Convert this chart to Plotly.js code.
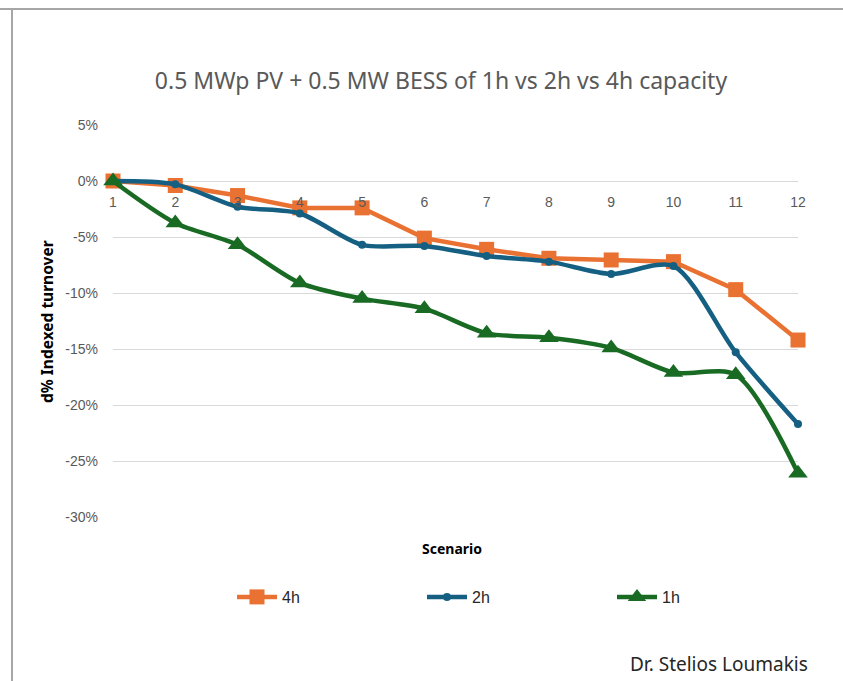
<!DOCTYPE html>
<html>
<head>
<meta charset="utf-8">
<script src="https://cdn.plot.ly/plotly-3.0.1.min.js"></script>
<style>
  html, body { margin: 0; padding: 0; background: #fff; }
  #wrap { position: relative; width: 843px; height: 681px; overflow: hidden; }
  #chart { position: absolute; left: 0; top: 0; width: 843px; height: 681px; }
  #frame { position: absolute; left: 11px; top: 8px; width: 840px; height: 680px;
           border-left: 2px solid #A6A6A6; border-top: 2px solid #A6A6A6; pointer-events: none; }
  #frameTop { position: absolute; left: 0; top: 8px; width: 843px; height: 0;
           border-top: 2px solid #A6A6A6; pointer-events: none; }
</style>
</head>
<body>
<div id="wrap">
  <div id="chart"></div>
  <div id="frameTop"></div>
  <div id="frame"></div>
</div>
<script>
// Data (percent)
const scenarios = [1, 2, 3, 4, 5, 6, 7, 8, 9, 10, 11, 12];
const scenarioLabels = ["1", "2", "3", "4", "5", "6", "7", "8", "9", "10", "11", "12"];
const series4h = [0, -0.4, -1.3, -2.4, -2.4, -5.1, -6.1, -6.9, -7.05, -7.2, -9.7, -14.2];
const series2h = [0, -0.3, -2.3, -2.9, -5.7, -5.8, -6.7, -7.2, -8.3, -7.6, -15.3, -21.7];
const series1h = [0, -3.75, -5.7, -9.1, -10.5, -11.4, -13.6, -14.0, -14.9, -17.1, -17.3, -26.1];
const yTickValues = [5, 0, -5, -10, -15, -20, -25, -30];
const yTickLabels = ["5%", "0%", "-5%", "-10%", "-15%", "-20%", "-25%", "-30%"];

const cOrange = "#E97132", cBlue = "#156082", cGreen = "#196B24";
const gray = "#595959";

const yMin = -30, yMax = 5;

const traces = [
  { x: scenarios, y: series4h, name: "4h", type: "scatter", mode: "lines+markers",
    cliponaxis: false,
    line: { color: cOrange, width: 4.5, shape: "linear" },
    marker: { symbol: "square", size: 15, color: cOrange } },
  { x: scenarios, y: series2h, name: "2h", type: "scatter", mode: "lines+markers",
    cliponaxis: false,
    line: { color: cBlue, width: 4.5, shape: "spline", smoothing: 0.8 },
    marker: { symbol: "circle", size: 8, color: cBlue } },
  { x: scenarios, y: series1h, name: "1h", type: "scatter", mode: "lines+markers",
    cliponaxis: false,
    line: { color: cGreen, width: 4.5, shape: "spline", smoothing: 0.8 },
    marker: { symbol: "triangle-up", size: 17, color: cGreen } }
];

const layout = {
  width: 843, height: 681,
  paper_bgcolor: "#fff", plot_bgcolor: "#fff",
  margin: { l: 113, r: 45, t: 125, b: 164, autoexpand: false },
  font: { family: "Liberation Sans, Arial, sans-serif", color: gray, size: 14 },
  title: { text: "0.5 MWp PV + 0.5 MW BESS of 1h vs 2h vs 4h capacity",
           x: (441 - 113) / 685, xanchor: "center", xref: "paper",
           y: 1 - 81 / 681, yanchor: "middle", yref: "container",
           font: { family: "Noto Sans, sans-serif", size: 23, color: gray } },
  xaxis: {
    range: [1, 12], tickvals: scenarios, ticktext: scenarioLabels,
    anchor: "free", position: (0 - yMin) / (yMax - yMin),
    showgrid: false, zeroline: false, showline: false, ticks: "",
    ticklabelstandoff: 11, automargin: false,
    tickfont: { size: 14, color: gray }
  },
  yaxis: {
    range: [yMin, yMax], tickvals: yTickValues, ticktext: yTickLabels,
    showgrid: true, gridcolor: "#D9D9D9", gridwidth: 1,
    zeroline: false, showline: false, ticks: "",
    ticklabelstandoff: 14, automargin: false,
    tickfont: { size: 14, color: gray }
  },
  showlegend: true,
  legend: {
    orientation: "h", x: (802 - 113) / 685, xanchor: "right", xref: "paper",
    y: (517 - 597) / 392, yanchor: "middle",
    entrywidth: 135, entrywidthmode: "pixels",
    font: { size: 16, color: "#262626" }, itemwidth: 40, traceorder: "normal"
  },
  annotations: [
    { text: "<b>Scenario</b>", xref: "paper", yref: "paper", x: (452 - 113) / 685, y: (517 - 548) / 392,
      showarrow: false, xanchor: "center", yanchor: "middle",
      font: { family: "Noto Sans, sans-serif", size: 14, color: "#000" } },
    { text: "<b>d% Indexed turnover</b>", xref: "paper", yref: "paper",
      x: (47 - 113) / 685, y: (517 - 322) / 392, textangle: -90,
      showarrow: false, xanchor: "center", yanchor: "middle",
      font: { family: "Noto Sans, sans-serif", size: 15.5, color: "#000" } },
    { text: "Dr. Stelios Loumakis", xref: "paper", yref: "paper",
      x: (810 - 113) / 685, y: (517 - 664) / 392,
      showarrow: false, xanchor: "right", yanchor: "middle",
      font: { family: "Noto Sans, sans-serif", size: 19, color: "#262626" } }
  ]
};

Plotly.newPlot("chart", traces, layout, { displayModeBar: false, staticPlot: true });
</script>
</body>
</html>
